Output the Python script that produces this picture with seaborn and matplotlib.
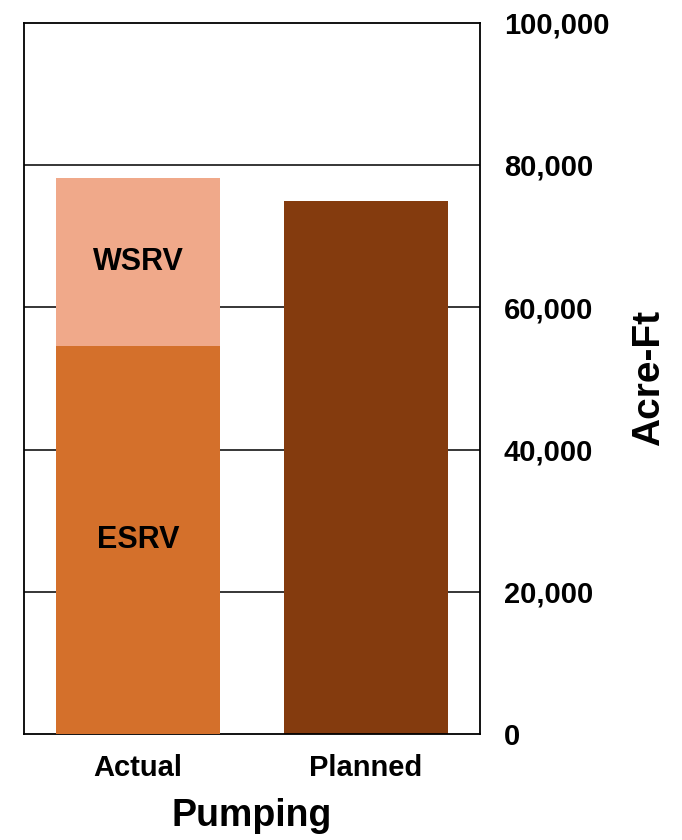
import numpy as np
import matplotlib
matplotlib.use("Agg")
import matplotlib.pyplot as plt
import pandas as pd
import seaborn as sns

# data (acre-feet)
categories = ["Actual", "Planned"]
esrv = [54600, 0]
wsrv = [23600, 0]
planned = [0, 75000]
yticks = [0, 20000, 40000, 60000, 80000, 100000]

c_esrv = "#D4702B"
c_wsrv = "#F0A98A"
c_plan = "#843B0E"

sns.set_style("white")
plt.rcParams["font.family"] = ["Liberation Sans", "DejaVu Sans"]
plt.rcParams["font.weight"] = "bold"
plt.rcParams["text.color"] = "black"
plt.rcParams["axes.labelcolor"] = "black"
plt.rcParams["xtick.color"] = "black"
plt.rcParams["ytick.color"] = "black"

totals = [e + w + p for e, w, p in zip(esrv, wsrv, planned)]
df_top = pd.DataFrame({"cat": categories, "val": totals})
df_bot = pd.DataFrame({"cat": categories[:1], "val": esrv[:1]})

fig = plt.figure(figsize=(6.82, 8.4), dpi=100)
ax = fig.add_axes([0.035, 0.126, 0.669, 0.847])

# gridlines under bars
for t in yticks[1:-1]:
    ax.axhline(t, color="black", lw=1.1, zorder=0)

sns.barplot(data=df_top, x="cat", y="val", hue="cat", order=categories,
            palette={"Actual": c_wsrv, "Planned": c_plan}, width=0.72,
            legend=False, ax=ax, saturation=1, zorder=2, linewidth=0)
sns.barplot(data=df_bot, x="cat", y="val", hue="cat", order=categories,
            palette={"Actual": c_esrv}, width=0.72,
            legend=False, ax=ax, saturation=1, zorder=3, linewidth=0)

# segment labels
ax.text(0, esrv[0] / 2, "ESRV", ha="center", va="center", fontsize=22,
        fontweight="bold", color="black", zorder=4)
ax.text(0, esrv[0] + wsrv[0] / 2, "WSRV", ha="center", va="center",
        fontsize=22, fontweight="bold", color="black", zorder=4)

ax.set_xlim(-0.5, 1.5)
ax.set_ylim(0, 100000)
ax.yaxis.tick_right()
ax.yaxis.set_label_position("right")
ax.set_yticks(yticks)
ax.set_yticklabels([f"{t:,}" for t in yticks], fontsize=21, fontweight="bold")
ax.tick_params(axis="y", length=0, pad=17)
ax.tick_params(axis="x", length=0, pad=14, labelsize=21)
for lab in ax.get_xticklabels():
    lab.set_fontweight("bold")
ax.set_ylabel("Acre-Ft", fontsize=28, fontweight="bold", labelpad=16)
ax.set_xlabel("Pumping", fontsize=27, fontweight="bold", labelpad=12)

for s in ax.spines.values():
    s.set_visible(True)
    s.set_color("black")
    s.set_linewidth(1.3)

fig.savefig("out.png", dpi=100)
